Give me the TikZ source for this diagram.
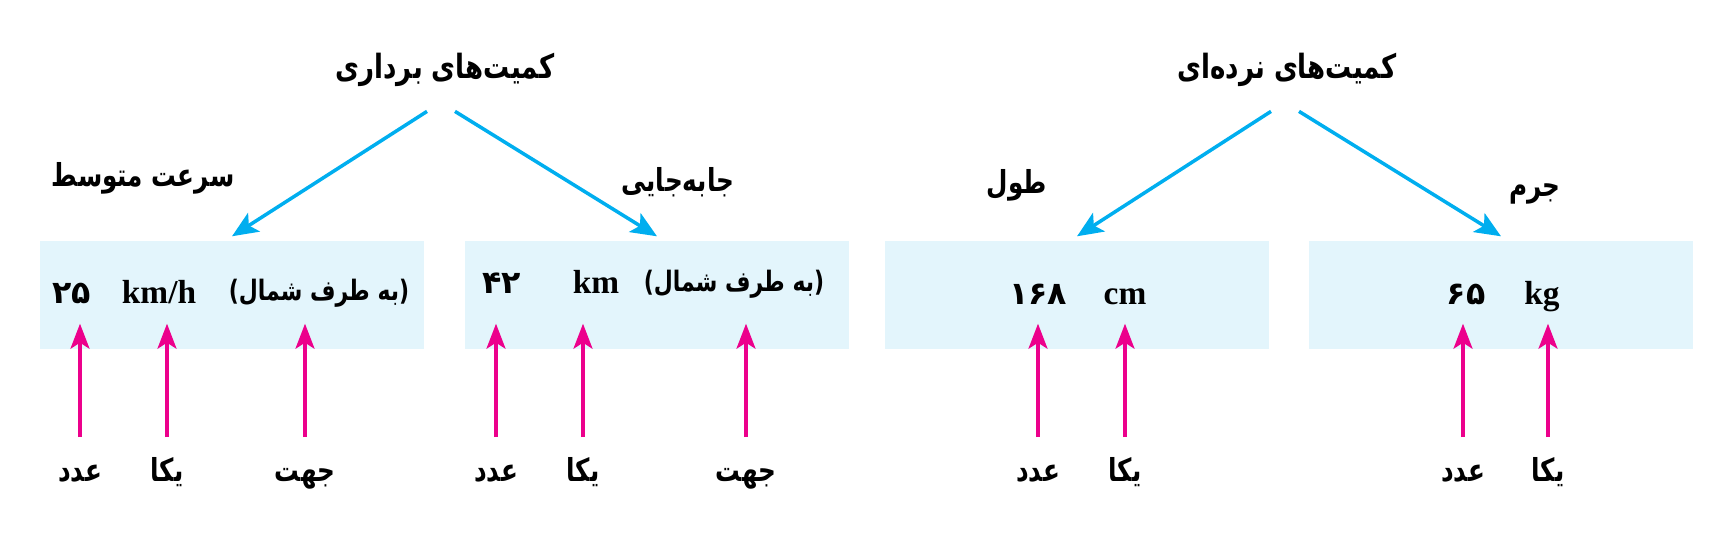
\documentclass[tikz,border=0pt]{standalone}
\usepackage{fontspec}
\setmainfont{Liberation Serif}
\newfontfamily\farsi[Script=Arabic, FakeStretch=0.78]{DejaVu Sans}
\newfontfamily\farsidigits[Script=Arabic]{DejaVu Sans}
\TeXXeTstate=1
\usetikzlibrary{arrows.meta,calc,positioning}
\definecolor{arrowblue}{RGB}{0,174,239}
\definecolor{arrowpink}{RGB}{236,0,140}
\definecolor{boxfill}{RGB}{227,245,252}
\newcommand{\fa}[1]{{\farsi\bfseries\beginR #1\endR}}
\tikzset{
  title/.style={anchor=base, font=\fontsize{9.5}{12}\selectfont},
  sub/.style={anchor=base, font=\fontsize{9}{11}\selectfont},
  dirn/.style={anchor=base, font=\fontsize{8}{10}\selectfont},
  unit/.style={anchor=base, font=\fontsize{9.5}{11}\selectfont\bfseries},
  num/.style={anchor=base, font=\fontsize{9}{11}\selectfont\farsidigits\bfseries},
  qbox/.style={fill=boxfill, minimum width=38.4mm, minimum height=10.8mm},
  bluearr/.style={draw=arrowblue, line width=1pt,
    -{Stealth[length=2.6mm, width=2.2mm, inset=0.6mm, fill=arrowblue]}},
  pinkarr/.style={draw=arrowpink, line width=0.9pt,
    -{Stealth[length=2.5mm, width=1.9mm, inset=0.6mm, fill=arrowpink]}},
}

\begin{document}
\begin{tikzpicture}[x=0.1mm, y=-0.1mm, every node/.style={inner sep=0pt}]
  \useasboundingbox (0,0) rectangle (1721,545);
  % the two groups and their headings
  \node[title] (vec) at (445,78) {\fa{کمیت‌های برداری}};
  \node[title] (sca) at (1287,78) {\fa{کمیت‌های نرده‌ای}};
  % light boxes, one per quantity
  \foreach \n/\x in {b1/232, b2/657, b3/1077, b4/1501}
    \node[qbox] (\n) at (\x,295) {};
  % names of the quantities
  \node[sub] (q1) at (143,186) {\fa{سرعت متوسط}};
  \node[sub] (q2) at (678,191) {\fa{جابه‌جایی}};
  \node[sub] (q3) at (1017,193) {\fa{طول}};
  \node[sub] (q4) at (1535,196) {\fa{جرم}};
  % heading -> box
  \draw[bluearr] ($(vec)+(-18,42)$) -- ([yshift=0.4mm]b1.north);
  \draw[bluearr] ($(vec)+(10,42)$) -- ([yshift=0.4mm]b2.north);
  \draw[bluearr] ($(sca)+(-16,42)$) -- ([yshift=0.4mm]b3.north);
  \draw[bluearr] ($(sca)+(12,42)$) -- ([yshift=0.4mm]b4.north);
  % contents of the boxes
  \node[num] (v1) at (72,303) {۲۵};
  \node[unit] (u1) at (159,303) {km/h};
  \node[dirn] (d1) at (319,300) {\fa{(به طرف شمال)}};
  \node[num] (v2) at (502,293) {۴۲};
  \node[unit] (u2) at (596,293) {km};
  \node[dirn] (d2) at (734,291) {\fa{(به طرف شمال)}};
  \node[num] (v3) at (1038,304) {۱۶۸};
  \node[unit] (u3) at (1125,304) {cm};
  \node[num] (v4) at (1466,304) {۶۵};
  \node[unit] (u4) at (1542,304) {kg};
  % what each part is: number, unit, direction
  \foreach \i/\x/\w in {1/80/عدد, 2/167/یکا, 3/305/جهت, 4/496/عدد, 5/583/یکا,
      6/746/جهت, 7/1038/عدد, 8/1125/یکا, 9/1463/عدد, 10/1548/یکا} {
    \node[sub] (l\i) at (\x,481) {\fa{\w}};
    \draw[pinkarr] ([yshift=4.4mm]l\i.base) -- ([yshift=2.6mm]l\i.base |- b1.south);
  }
\end{tikzpicture}
\end{document}
